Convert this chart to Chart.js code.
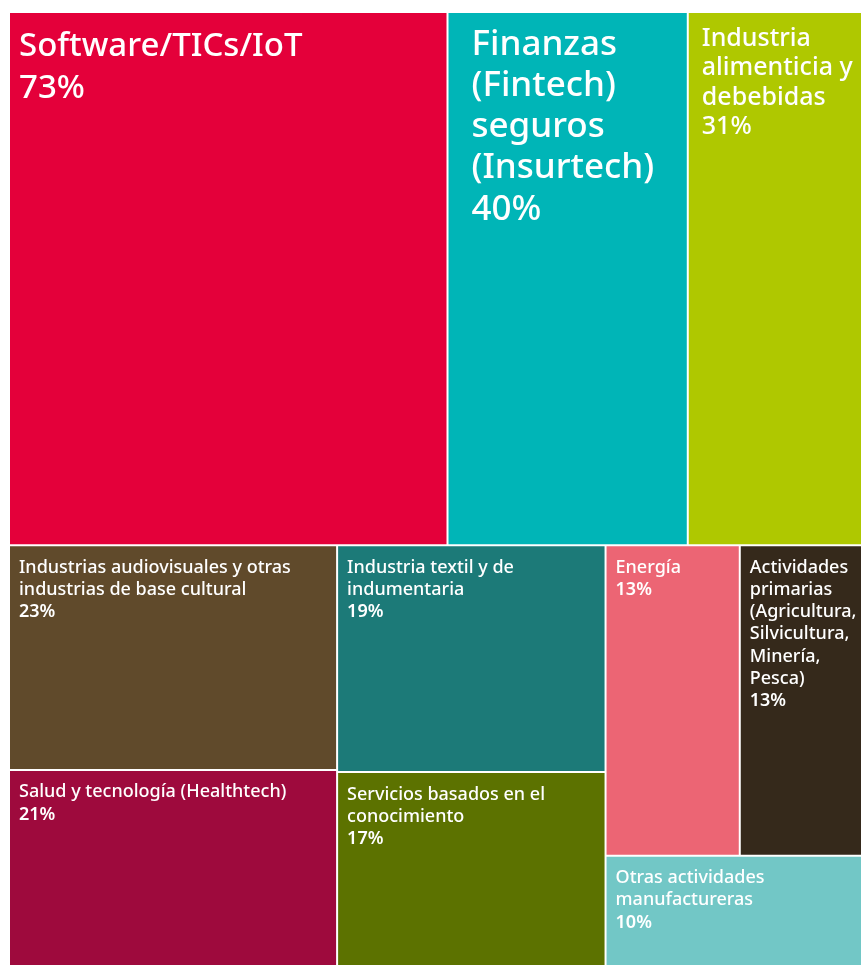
<!DOCTYPE html>
<html>
<head>
<meta charset="utf-8">
<script src="https://cdn.jsdelivr.net/npm/chart.js@4/dist/chart.umd.min.js"></script>
<style>
  html, body { margin: 0; padding: 0; background: #fff; overflow: hidden; }
  #wrap { width: 874px; height: 975px; }
</style>
</head>
<body>
<div id="wrap"><canvas id="treemapChart"></canvas></div>
<script>
// sectors (labels already split in lines, like Chart.js multi-line labels)
const categories = [
    ['Software/TICs/IoT'],
    ['Finanzas', '(Fintech)', 'seguros', '(Insurtech)'],
    ['Industria', 'alimenticia y', 'debebidas'],
    ['Industrias audiovisuales y otras', 'industrias de base cultural'],
    ['Salud y tecnología (Healthtech)'],
    ['Industria textil y de', 'indumentaria'],
    ['Servicios basados en el', 'conocimiento'],
    ['Energía'],
    ['Actividades', 'primarias', '(Agricultura,', 'Silvicultura,', 'Minería,', 'Pesca)'],
    ['Otras actividades', 'manufactureras']
];
const values = [73, 40, 31, 23, 21, 19, 17, 13, 13, 10];
const colors = ['#e4003a', '#00b5b7', '#afc800', '#604a2b', '#9e0a3d',
                '#1c7a78', '#5c7200', '#ec6574', '#35291b', '#72c7c6'];

// how the tiles are grouped (indexes into the arrays above)
const groups = [[0, 1, 2], [[3, 4], [5, 6], [[7, 8], 9]]];

function groupSum(node) {
    return Array.isArray(node) ? node.reduce((s, n) => s + groupSum(n), 0) : values[node];
}

// slice and dice: root stacks vertically, next level horizontally, and so on
function sliceDice(node, x0, y0, x1, y1, vertical, out) {
    if (!Array.isArray(node)) {
        out[node] = {x0, y0, x1, y1};
        return;
    }
    const total = groupSum(node);
    let pos = vertical ? y0 : x0;
    node.forEach(child => {
        const f = groupSum(child) / total;
        if (vertical) {
            const h = (y1 - y0) * f;
            sliceDice(child, x0, pos, x1, pos + h, false, out);
            pos += h;
        } else {
            const w = (x1 - x0) * f;
            sliceDice(child, pos, y0, pos + w, y1, true, out);
            pos += w;
        }
    });
}

class TreemapController extends Chart.DatasetController {
    update(mode) {
        const meta = this._cachedMeta;
        this.updateElements(meta.data, 0, meta.data.length, mode);
    }
    updateElements(rects, start, count, mode) {
        const meta = this._cachedMeta;
        const xScale = meta.xScale, yScale = meta.yScale;
        const boxes = [];
        sliceDice(groups, 0, 0, 1, 1, true, boxes);
        for (let i = start; i < start + count; i++) {
            const b = boxes[i];
            const left = xScale.getPixelForValue(b.x0);
            const right = xScale.getPixelForValue(b.x1);
            const top = yScale.getPixelForValue(b.y0);
            const bottom = yScale.getPixelForValue(b.y1);
            this.updateElement(rects[i], i, {
                x: (left + right) / 2,
                y: top,
                base: bottom,
                width: right - left,
                horizontal: false,
                borderSkipped: {},
                inflateAmount: 0,
                enableBorderRadius: false,
                options: this.resolveDataElementOptions(i, mode)
            }, mode);
        }
    }
    draw() {
        const ctx = this.chart.ctx;
        this._cachedMeta.data.forEach(el => el.draw(ctx));
    }
}
TreemapController.id = 'treemap';
TreemapController.defaults = { datasetElementType: false, dataElementType: 'bar' };
Chart.register(TreemapController);

// text sizes by tile size
function labelStyle(v) {
    if (v >= 70) return {size: 33, lh: 42, top: 44, left: 10, pw: 500};
    if (v >= 40) return {size: 35, lh: 41.3, top: 42.5, left: 24, pw: 500};
    if (v >= 30) return {size: 25, lh: 29.3, top: 34, left: 14, pw: 500};
    return {size: 18, lh: 22.2, top: 27.5, left: 10, pw: 600};
}

const tileLabels = {
    id: 'tileLabels',
    afterDatasetsDraw(chart) {
        const ctx = chart.ctx;
        const meta = chart.getDatasetMeta(0);
        ctx.save();
        ctx.fillStyle = '#ffffff';
        ctx.textBaseline = 'alphabetic';
        ctx.textAlign = 'left';
        meta.data.forEach((el, i) => {
            const st = labelStyle(values[i]);
            const x = el.x - el.width / 2 + st.left;
            let y = el.y + st.top;
            ctx.font = '500 ' + st.size + 'px "Noto Sans"';
            categories[i].forEach(line => {
                ctx.fillText(line, x, y);
                y += st.lh;
            });
            ctx.font = st.pw + ' ' + st.size + 'px "Noto Sans"';
            ctx.fillText(values[i] + '%', x, y);
        });
        ctx.restore();
    }
};

new Chart(document.getElementById('treemapChart'), {
    type: 'treemap',
    data: {
        labels: categories,
        datasets: [{
            data: values,
            backgroundColor: colors,
            borderColor: '#ffffff',
            borderWidth: 1
        }]
    },
    options: {
        responsive: true,
        maintainAspectRatio: false,
        animation: false,
        layout: { padding: {left: 9, top: 12, right: 0, bottom: 0} },
        scales: {
            x: { type: 'linear', min: 0, max: 1, display: false },
            y: { type: 'linear', min: 0, max: 1, reverse: true, display: false }
        },
        plugins: {
            legend: { display: false },
            tooltip: { enabled: false }
        }
    },
    plugins: [tileLabels]
});
</script>
</body>
</html>
